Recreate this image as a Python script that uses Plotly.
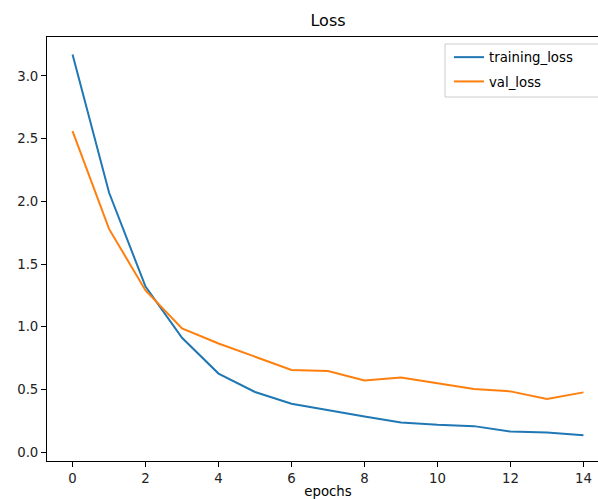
import plotly.graph_objects as go

epochs = list(range(15))
training_loss = [3.17, 2.07, 1.32, 0.912, 0.627, 0.48, 0.387, 0.333, 0.285, 0.237, 0.219, 0.208, 0.165, 0.157, 0.136]
val_loss = [2.56, 1.78, 1.29, 0.987, 0.867, 0.76, 0.656, 0.648, 0.571, 0.595, 0.552, 0.504, 0.485, 0.424, 0.477]
x_ticks = [0, 2, 4, 6, 8, 10, 12, 14]
y_ticks = [0.0, 0.5, 1.0, 1.5, 2.0, 2.5, 3.0]

W, H = 610, 499
L, R, T, B = 47, 1, 37, 38
PW, PH = W - L - R, H - T - B

fig = go.Figure()
fig.add_trace(go.Scatter(x=epochs, y=training_loss, mode="lines", name="training_loss",
                         legendgroup="a", line=dict(color="#1f77b4", width=2)))
fig.add_trace(go.Scatter(x=epochs, y=val_loss, mode="lines", name="val_loss",
                         legendgroup="b", line=dict(color="#ff7f0e", width=2)))

# legend frame (matplotlib-like, wider than plotly's auto-sized box)
fig.add_shape(type="rect", xref="paper", yref="paper", layer="above",
              x0=(445 - L) / PW, x1=(604 - L) / PW,
              y0=1 - (97 - T) / PH, y1=1 - (44 - T) / PH,
              line=dict(color="#cccccc", width=1), fillcolor="rgba(255,255,255,0.8)")

font = "DejaVu Sans, sans-serif"
fig.update_layout(
    width=W, height=H,
    margin=dict(l=L, r=R, t=T, b=B),
    paper_bgcolor="white", plot_bgcolor="white",
    font=dict(family=font, size=13.3, color="black"),
    title=dict(text="Loss", x=328 / W, xanchor="center", y=1 - 20 / H, yanchor="middle",
               font=dict(family=font, size=16, color="black")),
    showlegend=True,
    legend=dict(x=(449 - L) / PW, y=1 - 5 / PH, xanchor="left", yanchor="top",
                bgcolor="rgba(0,0,0,0)", borderwidth=0,
                font=dict(family=font, size=13.3, color="black"), tracegroupgap=4),
)
fig.update_xaxes(range=[-0.7, 14.7], tickvals=x_ticks, ticktext=[str(v) for v in x_ticks],
                 showgrid=False, zeroline=False, showline=True, linecolor="black", linewidth=1,
                 mirror=True, ticks="outside", ticklen=5, tickcolor="black",
                 tickfont=dict(family=font, size=13.3, color="#222"),
                 title=dict(text="epochs", standoff=4, font=dict(family=font, size=13.3)))
fig.update_yaxes(range=[-0.07, 3.31], tickvals=y_ticks, ticktext=[f"{v:.1f}" for v in y_ticks],
                 showgrid=False, zeroline=False, showline=True, linecolor="black", linewidth=1,
                 mirror=False, ticks="outside", ticklen=5, tickcolor="black",
                 tickfont=dict(family=font, size=13.3, color="#222"))

fig.write_html("out.html", config={"displayModeBar": False},
               post_script="document.body.style.margin='0';document.body.style.overflow='hidden';")
